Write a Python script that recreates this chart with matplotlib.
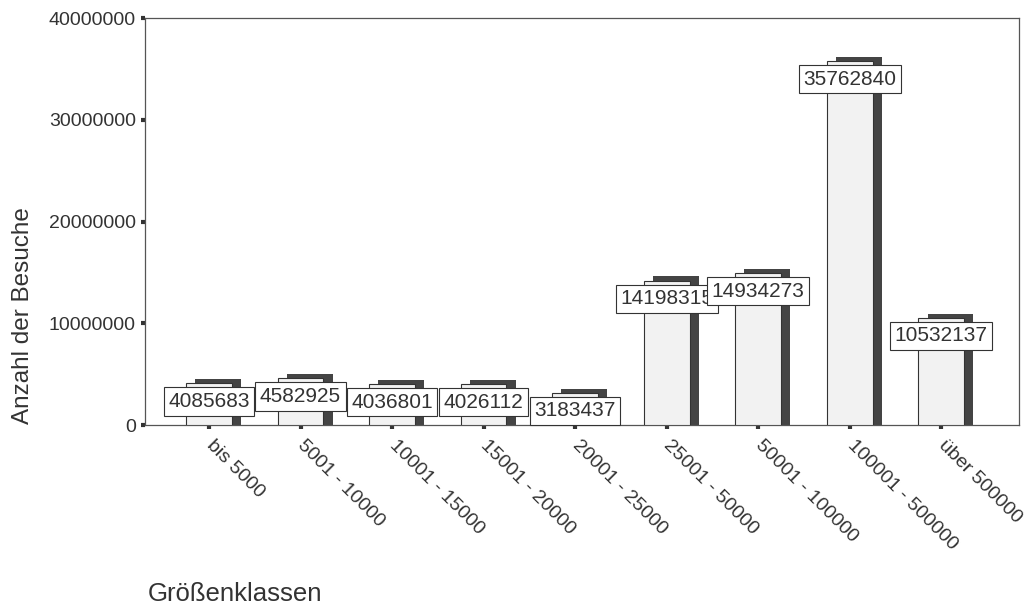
import matplotlib.pyplot as plt
import numpy as np

plt.rcParams['font.family'] = ['Liberation Sans', 'DejaVu Sans']

klassen = ["bis 5000", "5001 - 10000", "10001 - 15000", "15001 - 20000", "20001 - 25000",
           "25001 - 50000", "50001 - 100000", "100001 - 500000", "über 500000"]
besuche = [4085683, 4582925, 4036801, 4026112, 3183437,
           14198315, 14934273, 35762840, 10532137]

x = np.arange(len(klassen))
txt = '#333333'

fig = plt.figure(figsize=(10.31, 6.07), dpi=100)
ax = fig.add_axes([0.1406, 0.2998, 0.8478, 0.6705])

w = 0.5
# dark back face (depth effect)
ax.bar(x + 0.1, np.array(besuche) + 0.4e6, w, color='#444444', zorder=2)
# light front face
ax.bar(x, besuche, w, color='#f2f2f2', edgecolor='#333333', linewidth=0.8, zorder=3)

for xi, v in zip(x, besuche):
    ax.annotate(str(v), (xi, v), xytext=(0, -13), textcoords='offset points',
                ha='center', va='center', fontsize=15, color=txt, zorder=5,
                bbox=dict(boxstyle='square,pad=0.22', fc='white', ec='#333333', lw=0.8))

ax.set_xlim(-0.7, 8.85)
ax.set_ylim(0, 40000000)
ax.set_yticks([0, 10000000, 20000000, 30000000, 40000000])
ax.set_yticklabels(['0', '10000000', '20000000', '30000000', '40000000'])
ax.set_xticks(x)
ax.set_xticklabels(klassen, rotation=-45, ha='left', va='center', rotation_mode='anchor')

ax.tick_params(axis='both', direction='out', length=3, width=3, color='#333333',
               labelsize=14, labelcolor=txt)
ax.tick_params(axis='x', pad=10)
for s in ax.spines.values():
    s.set_color('#555555')
    s.set_linewidth(0.9)

ax.set_ylabel('Anzahl der Besuche', fontsize=17.5, color=txt)
ax.yaxis.set_label_coords(-0.127, 0.268)
fig.text(0.143, 0.01, 'Größenklassen', fontsize=18.5, color=txt)

fig.savefig('out.png', dpi=100)
